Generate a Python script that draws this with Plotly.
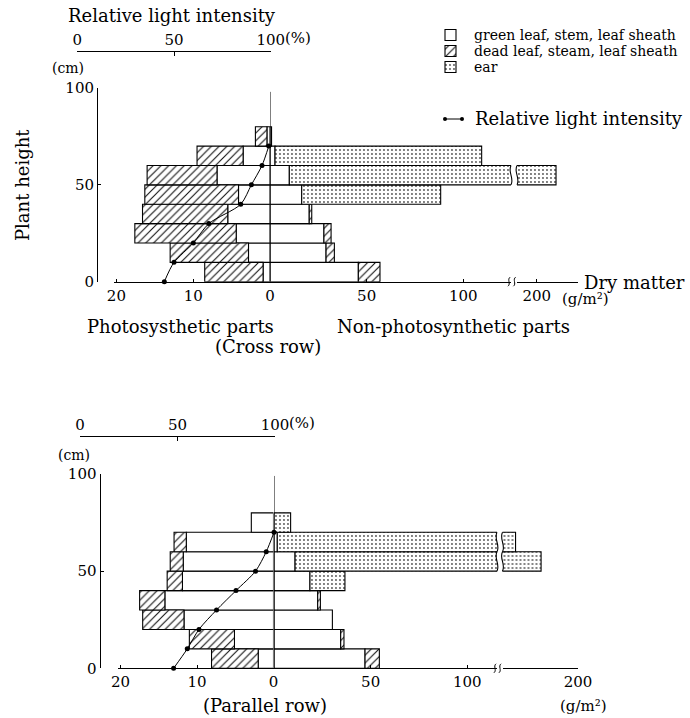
import plotly.graph_objects as go

W, H = 690, 718
SERIF = "DejaVu Serif"

# ---- data -------------------------------------------------------------
# 10 cm layers, labelled by their lower bound (cm)
layer_base = [0, 10, 20, 30, 40, 50, 60, 70]
layer_thick = 10
light_heights = [0, 10, 20, 30, 40, 50, 60, 70]

# Cross row (g/m2)
cross_ps_green = [0.9, 2.8, 4.4, 5.5, 4.1, 6.9, 3.5, 0.4]
cross_ps_dead = [7.6, 10.2, 13.2, 11.1, 12.2, 9.1, 6.0, 1.5]
cross_np_green = [45.7, 29.0, 27.9, 20.3, 16.4, 10.0, 2.6, 0.8]
cross_np_dead = [11.2, 4.3, 3.7, 1.3, 0, 0, 0, 0]
cross_ear = [0, 0, 0, 0, 71.9, 200.0, 106.9, 0]
cross_light = [45, 50, 60, 68, 84.5, 90, 95.5, 99]

# Parallel row (g/m2)
par_ps_green = [2.0, 5.1, 11.7, 14.2, 11.9, 11.8, 11.4, 2.9]
par_ps_dead = [6.1, 5.9, 5.4, 3.3, 2.0, 1.7, 1.6, 0]
par_np_green = [47.1, 34.5, 30.2, 22.6, 18.6, 10.9, 1.7, 0]
par_np_dead = [7.4, 1.7, 0, 1.4, 0, 0, 0, 0]
par_ear = [0, 0, 0, 0, 18.1, 170.0, 166.0, 8.6]
par_light = [48, 55, 61, 70, 80, 90, 95.5, 99.5]

x_ticks_ps = [20, 10, 0]
x_ticks_np = [50, 100]
x_ticks_far = [200]
light_ticks = [0, 50, 100]
height_ticks = [0, 50, 100]

legend_labels = ["green leaf, stem, leaf sheath",
                 "dead leaf, steam, leaf sheath",
                 "ear"]
light_label = "Relative light intensity"

# ---- helpers ------------------------------------------------------------
def fx(p):
    return p / W


def fy(p):
    return 1 - p / H


def nz(vals):
    return [v if v else None for v in vals]


WHITE = dict(color="white", line=dict(color="black", width=1.1))
HATCH = dict(color="white", line=dict(color="black", width=1.1),
             pattern=dict(shape="/", fgcolor="#111", bgcolor="white",
                          size=5.5, solidity=0.2))
DOTS = dict(color="white", line=dict(color="black", width=1.1),
            pattern=dict(shape=".", fgcolor="#555", bgcolor="white",
                         size=4, solidity=0.18))

axis_common = dict(showgrid=False, zeroline=False, showline=True,
                   linecolor="black", linewidth=1, ticks="inside",
                   ticklen=3, tickcolor="black", fixedrange=True,
                   tickfont=dict(family=SERIF, size=15, color="black"))

fig = go.Figure()
layout_axes = {}
shapes = []
annotations = []

PS_MAX = 20.3

panels = [
    dict(name="top", y0=281.7, y100=88.0, yaxis_px=97.0,
         zero_l=270.0, ps_px=7.68, zero_r=270.0, np_px=1.933,
         brk_end=511.0, brk_start=517.0, ax_end=578.0, v200=536.7,
         lt0=77.3, lt100=270.7, lt_line=50.7, stem_top=98,
         xs=("x", "x2", "x3", "x4"), y="y",
         ps_green=cross_ps_green, ps_dead=cross_ps_dead,
         np_green=cross_np_green, np_dead=cross_np_dead,
         ear=cross_ear, light=cross_light),
    dict(name="bottom", y0=668.3, y100=474.0, yaxis_px=99.5,
         zero_l=273.5, ps_px=7.65, zero_r=274.0, np_px=1.933,
         brk_end=497.0, brk_start=502.5, ax_end=578.0, v200=578.0,
         lt0=80.0, lt100=275.0, lt_line=436.0, stem_top=99,
         xs=("x5", "x6", "x7", "x8"), y="y2",
         ps_green=par_ps_green, ps_dead=par_ps_dead,
         np_green=par_np_green, np_dead=par_np_dead,
         ear=par_ear, light=par_light),
]


def axkey(name):
    return name[0] + "axis" + name[1:]


def squiggle(xp, yp, half=4.5, dx=2.2):
    """Small S-shaped break mark centred on pixel (xp, yp), in paper units."""
    return (f"M {fx(xp - dx / 2)},{fy(yp + half)} "
            f"C {fx(xp + dx)},{fy(yp + half / 2)} {fx(xp - dx)},{fy(yp - half / 2)} "
            f"{fx(xp + dx / 2)},{fy(yp - half)}")


for P in panels:
    xl, xr, xb, xt = P["xs"]
    ya = P["y"]
    mids = [b + layer_thick / 2 for b in layer_base]
    n = len(layer_base)

    np_max = (P["brk_end"] - P["zero_r"]) / P["np_px"]
    far_lo = 200 - (P["v200"] - P["brk_start"]) / P["np_px"]
    far_hi = 200 + (P["ax_end"] - P["v200"]) / P["np_px"]

    # photosynthetic side (left, reversed scale)
    fig.add_bar(y=mids, x=nz(P["ps_green"]), base=[0] * n, orientation="h",
                width=layer_thick, marker=WHITE, xaxis=xl, yaxis=ya)
    fig.add_bar(y=mids, x=nz(P["ps_dead"]), base=P["ps_green"], orientation="h",
                width=layer_thick, marker=HATCH, xaxis=xl, yaxis=ya)

    # non-photosynthetic side, drawn on both halves of the broken axis
    dead_base = P["np_green"]
    ear_base = [g + d for g, d in zip(P["np_green"], P["np_dead"])]
    for xa in (xr, xb):
        fig.add_bar(y=mids, x=nz(P["np_green"]), base=[0] * n, orientation="h",
                    width=layer_thick, marker=WHITE, xaxis=xa, yaxis=ya)
        fig.add_bar(y=mids, x=nz(P["np_dead"]), base=dead_base, orientation="h",
                    width=layer_thick, marker=HATCH, xaxis=xa, yaxis=ya)
        fig.add_bar(y=mids, x=nz(P["ear"]), base=ear_base, orientation="h",
                    width=layer_thick, marker=DOTS, xaxis=xa, yaxis=ya)

    # relative light intensity profile
    fig.add_scatter(x=P["light"], y=light_heights, mode="lines+markers",
                    line=dict(color="black", width=1, shape="spline", smoothing=0.8),
                    marker=dict(color="black", size=5), cliponaxis=False,
                    xaxis=xt, yaxis=ya)

    ydom = [fy(P["y0"]), fy(P["y100"])]
    layout_axes[axkey(ya)] = dict(axis_common, domain=ydom, range=[0, 100],
                                  anchor="free", position=fx(P["yaxis_px"]),
                                  tickvals=height_ticks)
    layout_axes[axkey(xl)] = dict(axis_common, anchor=ya, range=[PS_MAX, 0],
                                  domain=[fx(P["zero_l"] - PS_MAX * P["ps_px"]),
                                          fx(P["zero_l"])],
                                  tickvals=x_ticks_ps)
    layout_axes[axkey(xr)] = dict(axis_common, anchor=ya, range=[0, np_max],
                                  domain=[fx(P["zero_r"]), fx(P["brk_end"])],
                                  tickvals=x_ticks_np)
    layout_axes[axkey(xb)] = dict(axis_common, anchor=ya, range=[far_lo, far_hi],
                                  domain=[fx(P["brk_start"]), fx(P["ax_end"])],
                                  tickvals=x_ticks_far)
    layout_axes[axkey(xt)] = dict(axis_common, anchor="free", side="top",
                                  position=fy(P["lt_line"]), range=[0, 100],
                                  domain=[fx(P["lt0"]), fx(P["lt100"])],
                                  tickvals=light_ticks, ticklen=4)

    # centre line at zero dry matter
    shapes.append(dict(type="line", xref=xr, yref=ya, x0=0, x1=0, y0=0,
                       y1=P["stem_top"], line=dict(color="black", width=1),
                       layer="above"))

    # wavy edges on bars that run through the axis break
    for i in range(n):
        total = ear_base[i] + P["ear"][i]
        if total > np_max:
            yb, yt = layer_base[i], layer_base[i] + layer_thick
            for xp in (P["brk_end"], P["brk_start"]):
                shapes.append(dict(
                    type="path", xref="paper", yref=ya, layer="above",
                    path=(f"M {fx(xp)},{yb} C {fx(xp + 3.5)},{yb + 3.5} "
                          f"{fx(xp - 3.5)},{yt - 3.5} {fx(xp)},{yt}"),
                    line=dict(color="black", width=1.1)))

    # break marks on the dry-matter axis
    for xp in (P["brk_end"] - 2, P["brk_start"] - 2.5):
        shapes.append(dict(type="path", xref="paper", yref="paper",
                           path=squiggle(xp, P["y0"]),
                           line=dict(color="black", width=1)))

    # "(%)" after the light-intensity scale
    annotations.append(dict(text="(%)", x=fx(P["lt100"] + 12), y=fy(P["lt_line"] - 13),
                            xanchor="left", yanchor="middle",
                            font=dict(family=SERIF, size=15)))

annotations += [
    dict(text="Relative light intensity", x=fx(172), y=fy(15),
         xanchor="center", yanchor="middle", font=dict(family=SERIF, size=18)),
    dict(text="(cm)", x=fx(68), y=fy(68), xanchor="center", yanchor="middle",
         font=dict(family=SERIF, size=14)),
    dict(text="(cm)", x=fx(74), y=fy(455), xanchor="center", yanchor="middle",
         font=dict(family=SERIF, size=14)),
    dict(text="Plant height", x=fx(22), y=fy(185), textangle=-90,
         xanchor="center", yanchor="middle", font=dict(family=SERIF, size=18)),
    dict(text="Dry matter", x=fx(582), y=fy(282), xanchor="left",
         yanchor="middle", font=dict(family=SERIF, size=18)),
    dict(text="(g/m²)", x=fx(585), y=fy(299), xanchor="center",
         yanchor="middle", font=dict(family=SERIF, size=15)),
    dict(text="(g/m²)", x=fx(583), y=fy(706), xanchor="center",
         yanchor="middle", font=dict(family=SERIF, size=15)),
    dict(text="Photosysthetic parts", x=fx(180), y=fy(326), xanchor="center",
         yanchor="middle", font=dict(family=SERIF, size=18)),
    dict(text="Non-photosynthetic parts", x=fx(453), y=fy(326),
         xanchor="center", yanchor="middle", font=dict(family=SERIF, size=18)),
    dict(text="(Cross row)", x=fx(268), y=fy(346), xanchor="center",
         yanchor="middle", font=dict(family=SERIF, size=18)),
    dict(text="(Parallel row)", x=fx(265), y=fy(705), xanchor="center",
         yanchor="middle", font=dict(family=SERIF, size=18)),
]

# ---- key (drawn as a tiny subplot so the fill patterns show) ------------
row_px0, row_step = 35.0, 16.0
light_row = (119.0 - row_px0) / row_step
key_rows = list(range(len(legend_labels)))
key_styles = [WHITE, HATCH, DOTS]
box_frac = 11.0 / row_step
for r, st in zip(key_rows, key_styles):
    fig.add_bar(y=[r], x=[11], base=[1], orientation="h", width=box_frac,
                marker=st, xaxis="x9", yaxis="y3")
fig.add_scatter(x=[1, 18], y=[light_row, light_row], mode="lines+markers",
                line=dict(color="black", width=1), marker=dict(color="black", size=4),
                cliponaxis=False, xaxis="x9", yaxis="y3")
ky_lo, ky_hi = -0.5, light_row + 0.5
layout_axes["xaxis9"] = dict(visible=False, range=[0, 19], anchor="y3",
                             domain=[fx(444), fx(463)], fixedrange=True)
layout_axes["yaxis3"] = dict(visible=False, range=[ky_hi, ky_lo], anchor="x9",
                             domain=[fy(row_px0 + ky_hi * row_step),
                                     fy(row_px0 + ky_lo * row_step)],
                             fixedrange=True)
for r, lab in zip(key_rows, legend_labels):
    annotations.append(dict(text=lab, xref="paper", yref="y3", x=fx(472), y=r,
                            xanchor="left", yanchor="middle",
                            font=dict(family=SERIF, size=14)))
annotations.append(dict(text=light_label, xref="paper", yref="y3", x=fx(473),
                        y=light_row, xanchor="left", yanchor="middle",
                        font=dict(family=SERIF, size=18)))

for a in annotations:
    a.setdefault("xref", "paper")
    a.setdefault("yref", "paper")
    a["showarrow"] = False
    a["font"]["color"] = "black"

fig.update_layout(
    width=W, height=H, margin=dict(l=0, r=0, t=0, b=0, pad=0),
    template="none", paper_bgcolor="white", plot_bgcolor="rgba(0,0,0,0)",
    showlegend=False, barmode="overlay",
    font=dict(family=SERIF, color="black"),
    shapes=shapes, annotations=annotations,
    **layout_axes,
)

fig.write_html("out.html")
